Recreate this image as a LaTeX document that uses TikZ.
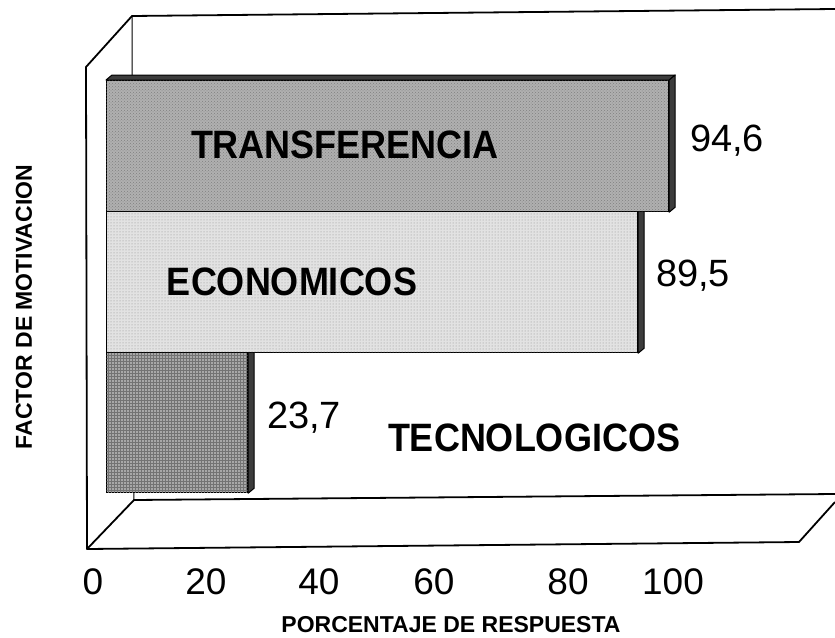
\documentclass[tikz,border=0pt]{standalone}
\usepackage{fontspec}
\setmainfont{Liberation Sans}
\usetikzlibrary{patterns}
\definecolor{barA}{HTML}{B0B0B0}
\definecolor{barB}{HTML}{E2E2E2}
\definecolor{barC}{HTML}{A8A8A8}
\definecolor{sideC}{HTML}{3C3C3C}
\begin{document}
\begin{tikzpicture}[x=1pt,y=-1pt,
  frame/.style={line width=1.8pt, black, line join=round},
  barbox/.style={draw=black, line width=1.2pt, inner sep=0pt, anchor=north west},
  sideface/.style={fill=sideC, draw=black, line width=1pt, line join=round},
  barlab/.style={font=\bfseries\fontsize{36}{40}\selectfont, inner sep=0pt},
  vallab/.style={font=\fontsize{38}{42}\selectfont, inner sep=0pt},
  ticklab/.style={font=\fontsize{37}{42}\selectfont, inner sep=0pt},
  axtitle/.style={font=\bfseries\fontsize{23}{26}\selectfont, inner sep=0pt}]
\useasboundingbox[fill=white] (0,0) rectangle (835,637);
% frame (back wall, side wall, floor)
\coordinate (bwtl) at (132,16);
\coordinate (bwtr) at (835,9);
\coordinate (lwt) at (86,67);
\coordinate (lwb) at (87,549);
\coordinate (bfl) at (134,500);
\coordinate (bfr) at (835,494);
\coordinate (ffr) at (799,542);
\coordinate (ffrr) at (835,502);
\draw[frame] (bwtr) -- (bwtl) -- (lwt) -- (lwb);
\draw[frame, line width=1pt] (bwtl) -- (bfl);
\draw[frame] (bfr) -- (bfl) -- (lwb) -- (ffr) -- (ffrr);
% bars (bottom first)
\node[barbox, fill=barC, postaction={pattern=grid, pattern color=black!55},
      minimum width=141pt, minimum height=140pt] (b3) at (106,352) {};
\filldraw[sideface] (b3.north east) -- ++(6,-5) -- ([shift={(6,-5)}]b3.south east) -- (b3.south east) -- cycle;
\node[barbox, fill=barB, postaction={pattern=dots, pattern color=black!45},
      minimum width=531pt, minimum height=141pt] (b2) at (106,211) {};
\filldraw[sideface] (b2.north east) -- ++(6,-5) -- ([shift={(6,-5)}]b2.south east) -- (b2.south east) -- cycle;
\node[barbox, fill=barA, postaction={pattern=crosshatch dots, pattern color=black!50},
      minimum width=562pt, minimum height=131pt] (b1) at (106,80) {};
\filldraw[sideface] (b1.north west) -- ++(6,-5) -- ([shift={(6,-5)}]b1.north east) -- (b1.north east) -- cycle;
\filldraw[sideface] (b1.north east) -- ++(6,-5) -- ([shift={(6,-5)}]b1.south east) -- (b1.south east) -- cycle;
% bar labels
\node[barlab] (t1) at (345,145) {\scalebox{1}[1.1]{TRANSFERENCIA}};
\node[barlab] (t2) at (292,282) {\scalebox{1}[1.1]{ECONOMICOS}};
\node[barlab] (t3) at (534,438) {\scalebox{1}[1.1]{TECNOLOGICOS}};
% values
\node[vallab] (v1) at (727,141) {94,6};
\node[vallab] (v2) at (693,276) {89,5};
\node[vallab] (v3) at (304,418) {23,7};
% ticks
\node[ticklab] (x0) at (93,582) {0};
\node[ticklab] (x20) at (206,582) {20};
\node[ticklab] (x40) at (319,582) {40};
\node[ticklab] (x60) at (434,582) {60};
\node[ticklab] (x80) at (568,582) {80};
\node[ticklab] (x100) at (673,582) {100};
% axis titles
\node[axtitle] (xt) at (451,625) {PORCENTAJE DE RESPUESTA};
\node[axtitle, rotate=90] (yt) at (24,307) {FACTOR DE MOTIVACION};
\end{tikzpicture}
\end{document}
